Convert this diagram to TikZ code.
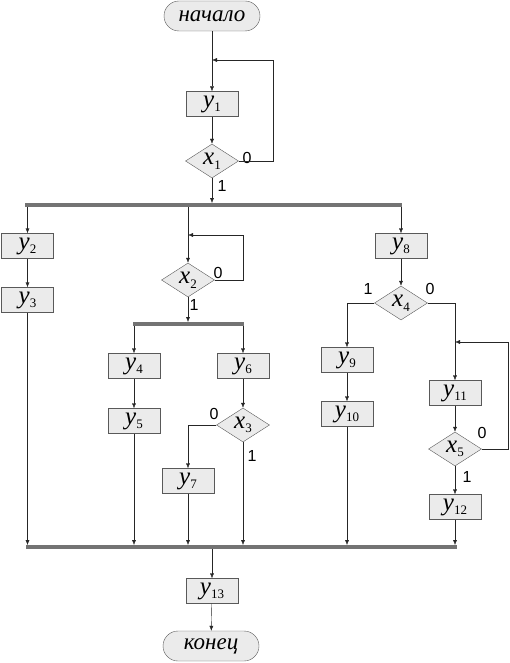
\documentclass[tikz,border=0pt]{standalone}
\usepackage{fontspec}
\setmainfont{Liberation Serif}
\newfontfamily\digitfont{Liberation Sans}
\usetikzlibrary{arrows.meta, positioning, shapes}

\newcommand{\vsub}[2]{\textit{#1}\raisebox{-0.4ex}{\fontsize{13}{13}\selectfont #2}}

\begin{document}
\begin{tikzpicture}[
x=1pt,
y=-1pt,
box/.style={
rectangle,
draw=black!65,
fill=black!8,
minimum width=52pt,
minimum height=25pt,
inner sep=0pt,
font=\fontsize{25}{25}\selectfont
},
cond/.style={
diamond,
draw=black!65,
fill=black!8,
minimum width=53pt,
minimum height=34pt,
inner sep=0pt,
font=\fontsize{25}{25}\selectfont
},
term/.style={
rectangle,
rounded corners=15pt,
draw=black!65,
fill=black!8,
minimum width=96pt,
minimum height=30pt,
inner sep=0pt,
font=\fontsize{23}{23}\selectfont\itshape
},
arrow/.style={
-{Latex[length=5pt,width=4pt]},
draw=black!85
},
bar/.style={
draw=black!55,
line width=4pt
},
num/.style={
font=\digitfont\fontsize{16}{16}\selectfont,
inner sep=0pt
}
]

\useasboundingbox (0,0) rectangle (509,663);

\node[term] (start) at (212,16) {начало};
\coordinate (j1) at (212,60);
\node[box] (y1) at (212,104) {\vsub{y}{1}};
\node[cond] (x1) at (212,161) {\vsub{x}{1}};

\coordinate (bar1) at (212,205);
\coordinate (bar1t) at (212,203);

\node[box] (y2) at (27.5,246) {\vsub{y}{2}};
\node[box] (y3) at (27.5,300) {\vsub{y}{3}};

\coordinate (j2) at (188,235);
\node[cond] (x2) at (188,280) {\vsub{x}{2}};
\coordinate (bar2) at (188,324);
\coordinate (bar2t) at (188,322);

\node[box] (y4) at (134,366) {\vsub{y}{4}};
\node[box] (y5) at (134,421) {\vsub{y}{5}};
\node[box] (y6) at (243,366) {\vsub{y}{6}};
\node[cond] (x3) at (243,425) {\vsub{x}{3}};
\node[box] (y7) at (188,481) {\vsub{y}{7}};

\node[box] (y8) at (401,246) {\vsub{y}{8}};
\node[cond] (x4) at (401,303) {\vsub{x}{4}};
\node[box] (y9) at (347,360) {\vsub{y}{9}};
\node[box] (y10) at (347,414) {\vsub{y}{10}};
\coordinate (j5) at (455,342);
\node[box] (y11) at (455,393) {\vsub{y}{11}};
\node[cond] (x5) at (455,449) {\vsub{x}{5}};
\node[box] (y12) at (455,507) {\vsub{y}{12}};

\coordinate (bar3) at (212,547);
\coordinate (bar3t) at (212,545);
\node[box] (y13) at (212,591) {\vsub{y}{13}};
\node[term] (stop) at (211,646) {конец};

\node[num] (l1) at (247,158) {0};
\node[num] (l2) at (222,186) {1};
\node[num] (l3) at (218,273) {0};
\node[num] (l4) at (194,305) {1};
\node[num] (l5) at (214,414) {0};
\node[num] (l6) at (252,456) {1};
\node[num] (l7) at (368,289) {1};
\node[num] (l8) at (430,289) {0};
\node[num] (l9) at (482,433) {0};
\node[num] (l10) at (467,477) {1};

\draw[arrow] (start) -- (y1);
\draw[arrow] (y1) -- (x1);
\draw[arrow] (x1.east) -- ++(34,0) |- (j1);
\draw[arrow] (x1) -- (bar1t);

\draw[arrow] (y2 |- bar1) -- (y2);
\draw[arrow] (y2) -- (y3);
\draw[arrow] (y3) -- (y3 |- bar3t);

\draw[arrow] (x2 |- bar1) -- (x2);
\draw[arrow] (x2.east) -- ++(28,0) |- (j2);
\draw[arrow] (x2) -- (bar2t);
\draw[arrow] (y4 |- bar2) -- (y4);
\draw[arrow] (y4) -- (y5);
\draw[arrow] (y5) -- (y5 |- bar3t);
\draw[arrow] (y6 |- bar2) -- (y6);
\draw[arrow] (y6) -- (x3);
\draw[arrow] (x3.west) -| (y7);
\draw[arrow] (y7) -- (y7 |- bar3t);
\draw[arrow] (x3) -- (x3 |- bar3t);

\draw[arrow] (y8 |- bar1) -- (y8);
\draw[arrow] (y8) -- (x4);
\draw[arrow] (x4.west) -| (y9);
\draw[arrow] (y9) -- (y10);
\draw[arrow] (y10) -- (y10 |- bar3t);
\draw[arrow] (x4.east) -| (y11);
\draw[arrow] (y11) -- (x5);
\draw[arrow] (x5.east) -- ++(26,0) |- (j5);
\draw[arrow] (x5) -- (y12);
\draw[arrow] (y12) -- (y12 |- bar3t);

\draw[arrow] (bar3) -- (y13);
\draw[arrow] (y13) -- (stop);

\draw[bar] (25,205) -- (402,205);
\draw[bar] (133,324) -- (244,324);
\draw[bar] (26,547) -- (457,547);

\end{tikzpicture}
\end{document}
